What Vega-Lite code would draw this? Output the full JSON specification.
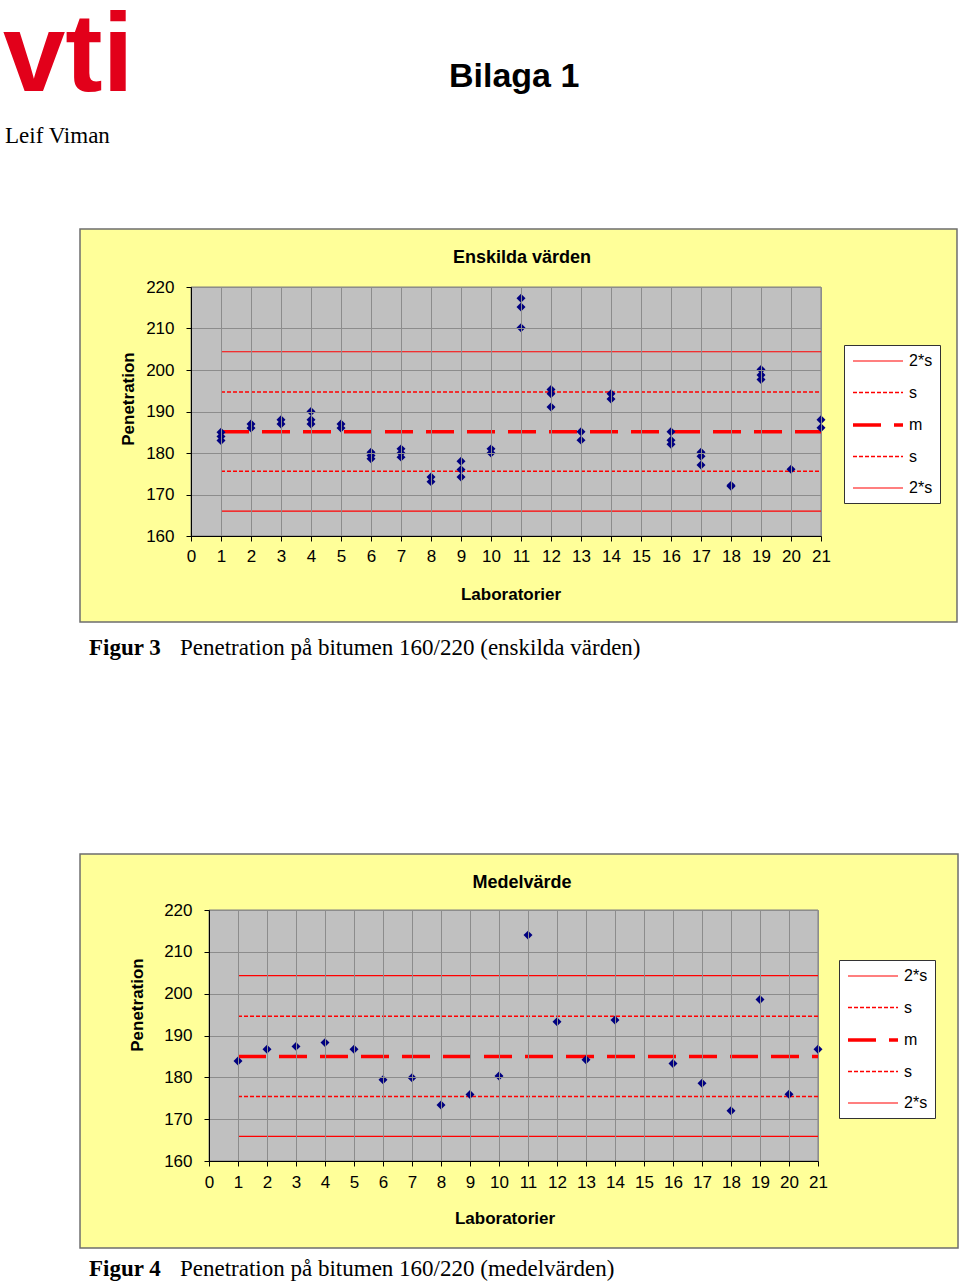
{
  "$schema": "https://vega.github.io/schema/vega-lite/v6.json",
  "padding": {"left": 2, "top": 0, "right": 0, "bottom": 0},
  "bounds": "flush",
  "spacing": 374,
  "resolve": {"scale": {"color": "independent", "strokeDash": "independent", "strokeWidth": "independent"}, "legend": {"color": "independent", "strokeDash": "independent", "strokeWidth": "independent"}},
  "datasets": {
    "enskilda": [
      {"lab": 1, "pen": 185}, {"lab": 1, "pen": 184}, {"lab": 1, "pen": 183},
      {"lab": 2, "pen": 187}, {"lab": 2, "pen": 186},
      {"lab": 3, "pen": 188}, {"lab": 3, "pen": 187},
      {"lab": 4, "pen": 190}, {"lab": 4, "pen": 188}, {"lab": 4, "pen": 187},
      {"lab": 5, "pen": 187}, {"lab": 5, "pen": 186},
      {"lab": 6, "pen": 180.2}, {"lab": 6, "pen": 179.4}, {"lab": 6, "pen": 178.6},
      {"lab": 7, "pen": 181}, {"lab": 7, "pen": 180}, {"lab": 7, "pen": 179},
      {"lab": 8, "pen": 174.2}, {"lab": 8, "pen": 173.1},
      {"lab": 9, "pen": 178}, {"lab": 9, "pen": 176}, {"lab": 9, "pen": 174.2},
      {"lab": 10, "pen": 181}, {"lab": 10, "pen": 180},
      {"lab": 11, "pen": 217.3}, {"lab": 11, "pen": 215.2}, {"lab": 11, "pen": 210.2},
      {"lab": 12, "pen": 195.3}, {"lab": 12, "pen": 194.3}, {"lab": 12, "pen": 191.1},
      {"lab": 13, "pen": 185.1}, {"lab": 13, "pen": 183.1},
      {"lab": 14, "pen": 194.3}, {"lab": 14, "pen": 193.0},
      {"lab": 16, "pen": 185.1}, {"lab": 16, "pen": 183.1}, {"lab": 16, "pen": 182.1},
      {"lab": 17, "pen": 180.2}, {"lab": 17, "pen": 179.2}, {"lab": 17, "pen": 177.1},
      {"lab": 18, "pen": 172.2}, {"lab": 18, "pen": 172.0},
      {"lab": 19, "pen": 200.1}, {"lab": 19, "pen": 198.8}, {"lab": 19, "pen": 197.7},
      {"lab": 20, "pen": 176.1},
      {"lab": 21, "pen": 188.0}, {"lab": 21, "pen": 186.1}
    ],
    "medel": [
      {"lab": 1, "pen": 183.9}, {"lab": 2, "pen": 186.7}, {"lab": 3, "pen": 187.4},
      {"lab": 4, "pen": 188.3}, {"lab": 5, "pen": 186.7}, {"lab": 6, "pen": 179.4},
      {"lab": 7, "pen": 179.9}, {"lab": 8, "pen": 173.4}, {"lab": 9, "pen": 175.9},
      {"lab": 10, "pen": 180.3}, {"lab": 11, "pen": 214.0}, {"lab": 12, "pen": 193.3},
      {"lab": 13, "pen": 184.2}, {"lab": 14, "pen": 193.7}, {"lab": 16, "pen": 183.3},
      {"lab": 17, "pen": 178.6}, {"lab": 18, "pen": 172.0}, {"lab": 19, "pen": 198.6},
      {"lab": 20, "pen": 175.95}, {"lab": 21, "pen": 186.7}
    ],
    "refs1": [
      {"series": "hi2", "value": 204.4}, {"series": "hi1", "value": 194.7},
      {"series": "mean", "value": 185.1}, {"series": "lo1", "value": 175.6},
      {"series": "lo2", "value": 166.0}
    ],
    "refs2": [
      {"series": "hi2", "value": 204.3}, {"series": "hi1", "value": 194.6},
      {"series": "mean", "value": 185.0}, {"series": "lo1", "value": 175.4},
      {"series": "lo2", "value": 165.9}
    ]
  },
  "vconcat": [
    {
      "width": 630,
      "height": 249,
      "layer": [
        {
          "data": {"values": [{}]},
          "mark": {"type": "rect", "fill": "#ffff99", "stroke": "#6e6e6e", "strokeWidth": 1.5},
          "encoding": {
            "x": {"datum": -3.7, "type": "quantitative", "axis": {"values": [0,1,2,3,4,5,6,7,8,9,10,11,12,13,14,15,16,17,18,19,20,21], "title": null, "grid": true, "zindex": 1, "labelFlush": false, "labelOverlap": false, "labelPadding": 7}},
            "x2": {"datum": 25.533},
            "y": {"datum": 233.976, "type": "quantitative", "axis": {"values": [160,170,180,190,200,210,220], "title": null, "grid": true, "zindex": 1, "labelFlush": false, "labelOverlap": false, "labelPadding": 12}},
            "y2": {"datum": 139.277}
          }
        },
        {
          "data": {"values": [{}]},
          "mark": {"type": "rect", "fill": "#c0c0c0", "stroke": "#808080", "strokeWidth": 1},
          "encoding": {
            "x": {"datum": 0, "type": "quantitative", "axis": {"values": [0,1,2,3,4,5,6,7,8,9,10,11,12,13,14,15,16,17,18,19,20,21], "title": null, "grid": true, "zindex": 1, "labelFlush": false, "labelOverlap": false, "labelPadding": 7}},
            "x2": {"datum": 21},
            "y": {"datum": 220, "type": "quantitative", "axis": {"values": [160,170,180,190,200,210,220], "title": null, "grid": true, "zindex": 1, "labelFlush": false, "labelOverlap": false, "labelPadding": 12}},
            "y2": {"datum": 160}
          }
        },
        {
          "data": {"name": "refs1"},
          "mark": {"type": "rule", "strokeCap": "butt"},
          "encoding": {
            "x": {"datum": 1, "type": "quantitative", "axis": {"values": [0,1,2,3,4,5,6,7,8,9,10,11,12,13,14,15,16,17,18,19,20,21], "title": null, "grid": true, "zindex": 1, "labelFlush": false, "labelOverlap": false, "labelPadding": 7}},
            "x2": {"datum": 21},
            "y": {"field": "value", "type": "quantitative", "axis": {"values": [160,170,180,190,200,210,220], "title": null, "grid": true, "zindex": 1, "labelFlush": false, "labelOverlap": false, "labelPadding": 12}},
            "color": {"field": "series", "type": "nominal",
              "scale": {"domain": ["hi2", "hi1", "mean", "lo1", "lo2"], "range": ["#ff0000", "#ff0000", "#ff0000", "#ff0000", "#ff0000"]},
              "legend": {"orient": "none", "legendX": 653, "legendY": 58, "direction": "vertical", "title": null,
                "labelExpr": "datum.value == 'mean' ? 'm' : (datum.value == 'hi2' || datum.value == 'lo2' ? '2*s' : 's')"}},
            "strokeDash": {"field": "series", "type": "nominal",
              "scale": {"domain": ["hi2", "hi1", "mean", "lo1", "lo2"], "range": [[1, 0], [4, 2], [28, 13], [4, 2], [1, 0]]},
              "legend": {"orient": "none", "legendX": 653, "legendY": 58, "direction": "vertical", "title": null,
                "labelExpr": "datum.value == 'mean' ? 'm' : (datum.value == 'hi2' || datum.value == 'lo2' ? '2*s' : 's')"}},
            "strokeWidth": {"field": "series", "type": "nominal",
              "scale": {"type": "ordinal", "domain": ["hi2", "hi1", "mean", "lo1", "lo2"], "range": [1.2, 1.5, 3.5, 1.5, 1.2]},
              "legend": {"orient": "none", "legendX": 653, "legendY": 58, "direction": "vertical", "title": null,
                "labelExpr": "datum.value == 'mean' ? 'm' : (datum.value == 'hi2' || datum.value == 'lo2' ? '2*s' : 's')"}}
          }
        },
        {
          "data": {"name": "enskilda"},
          "mark": {"type": "point", "shape": "diamond", "filled": true, "color": "#000080", "size": 80, "opacity": 1},
          "encoding": {
            "x": {"field": "lab", "type": "quantitative",
              "scale": {"domain": [0, 21], "nice": false, "zero": false},
              "axis": {"values": [0,1,2,3,4,5,6,7,8,9,10,11,12,13,14,15,16,17,18,19,20,21], "title": null, "grid": true, "zindex": 1, "labelFlush": false, "labelOverlap": false, "labelPadding": 7}},
            "y": {"field": "pen", "type": "quantitative",
              "scale": {"domain": [160, 220], "nice": false, "zero": false},
              "axis": {"values": [160,170,180,190,200,210,220], "title": null, "grid": true, "zindex": 1, "labelFlush": false, "labelOverlap": false, "labelPadding": 12}}
          }
        },
        {
          "data": {"values": [{}]},
          "mark": {"type": "text", "text": "vti", "font": "Liberation Sans", "fontWeight": "bold", "fontSize": 112, "color": "#e2001a", "align": "left", "baseline": "alphabetic"},
          "encoding": {"x": {"datum": -6.2667, "type": "quantitative", "axis": {"values": [0,1,2,3,4,5,6,7,8,9,10,11,12,13,14,15,16,17,18,19,20,21], "title": null, "grid": true, "zindex": 1, "labelFlush": false, "labelOverlap": false, "labelPadding": 7}}, "y": {"datum": 267.23, "type": "quantitative", "axis": {"values": [160,170,180,190,200,210,220], "title": null, "grid": true, "zindex": 1, "labelFlush": false, "labelOverlap": false, "labelPadding": 12}}}
        },
        {
          "data": {"values": [{}]},
          "mark": {"type": "text", "text": "Bilaga 1", "font": "Liberation Sans", "fontWeight": "bold", "fontSize": 34, "color": "black", "align": "left", "baseline": "alphabetic"},
          "encoding": {"x": {"datum": 8.6, "type": "quantitative", "axis": {"values": [0,1,2,3,4,5,6,7,8,9,10,11,12,13,14,15,16,17,18,19,20,21], "title": null, "grid": true, "zindex": 1, "labelFlush": false, "labelOverlap": false, "labelPadding": 7}}, "y": {"datum": 268.3, "type": "quantitative", "axis": {"values": [160,170,180,190,200,210,220], "title": null, "grid": true, "zindex": 1, "labelFlush": false, "labelOverlap": false, "labelPadding": 12}}}
        },
        {
          "data": {"values": [{}]},
          "mark": {"type": "text", "text": "Leif Viman", "font": "Liberation Serif", "fontSize": 23, "color": "black", "align": "left", "baseline": "alphabetic"},
          "encoding": {"x": {"datum": -6.2, "type": "quantitative", "axis": {"values": [0,1,2,3,4,5,6,7,8,9,10,11,12,13,14,15,16,17,18,19,20,21], "title": null, "grid": true, "zindex": 1, "labelFlush": false, "labelOverlap": false, "labelPadding": 7}}, "y": {"datum": 254.7, "type": "quantitative", "axis": {"values": [160,170,180,190,200,210,220], "title": null, "grid": true, "zindex": 1, "labelFlush": false, "labelOverlap": false, "labelPadding": 12}}}
        },
        {
          "data": {"values": [{}]},
          "mark": {"type": "text", "text": "Enskilda värden", "font": "Liberation Sans", "fontWeight": "bold", "fontSize": 18, "color": "black", "align": "center", "baseline": "middle"},
          "encoding": {"x": {"datum": 11.033, "type": "quantitative", "axis": {"values": [0,1,2,3,4,5,6,7,8,9,10,11,12,13,14,15,16,17,18,19,20,21], "title": null, "grid": true, "zindex": 1, "labelFlush": false, "labelOverlap": false, "labelPadding": 7}}, "y": {"datum": 226.99, "type": "quantitative", "axis": {"values": [160,170,180,190,200,210,220], "title": null, "grid": true, "zindex": 1, "labelFlush": false, "labelOverlap": false, "labelPadding": 12}}}
        },
        {
          "data": {"values": [{}]},
          "mark": {"type": "text", "text": "Penetration", "font": "Liberation Sans", "fontWeight": "bold", "fontSize": 17, "color": "black", "align": "center", "baseline": "middle", "angle": 270},
          "encoding": {"x": {"datum": -2.0667, "type": "quantitative", "axis": {"values": [0,1,2,3,4,5,6,7,8,9,10,11,12,13,14,15,16,17,18,19,20,21], "title": null, "grid": true, "zindex": 1, "labelFlush": false, "labelOverlap": false, "labelPadding": 7}}, "y": {"datum": 193.01, "type": "quantitative", "axis": {"values": [160,170,180,190,200,210,220], "title": null, "grid": true, "zindex": 1, "labelFlush": false, "labelOverlap": false, "labelPadding": 12}}}
        },
        {
          "data": {"values": [{}]},
          "mark": {"type": "text", "text": "Laboratorier", "font": "Liberation Sans", "fontWeight": "bold", "fontSize": 17, "color": "black", "align": "center", "baseline": "middle"},
          "encoding": {"x": {"datum": 10.667, "type": "quantitative", "axis": {"values": [0,1,2,3,4,5,6,7,8,9,10,11,12,13,14,15,16,17,18,19,20,21], "title": null, "grid": true, "zindex": 1, "labelFlush": false, "labelOverlap": false, "labelPadding": 7}}, "y": {"datum": 145.78, "type": "quantitative", "axis": {"values": [160,170,180,190,200,210,220], "title": null, "grid": true, "zindex": 1, "labelFlush": false, "labelOverlap": false, "labelPadding": 12}}}
        },
        {
          "data": {"values": [{}]},
          "mark": {"type": "text", "text": "Figur 3", "font": "Liberation Serif", "fontWeight": "bold", "fontSize": 23, "color": "black", "align": "left", "baseline": "alphabetic"},
          "encoding": {"x": {"datum": -3.4, "type": "quantitative", "axis": {"values": [0,1,2,3,4,5,6,7,8,9,10,11,12,13,14,15,16,17,18,19,20,21], "title": null, "grid": true, "zindex": 1, "labelFlush": false, "labelOverlap": false, "labelPadding": 7}}, "y": {"datum": 131.35, "type": "quantitative", "axis": {"values": [160,170,180,190,200,210,220], "title": null, "grid": true, "zindex": 1, "labelFlush": false, "labelOverlap": false, "labelPadding": 12}}}
        },
        {
          "data": {"values": [{}]},
          "mark": {"type": "text", "text": "Penetration på bitumen 160/220 (enskilda värden)", "font": "Liberation Serif", "fontSize": 23, "color": "black", "align": "left", "baseline": "alphabetic"},
          "encoding": {"x": {"datum": -0.3667, "type": "quantitative", "axis": {"values": [0,1,2,3,4,5,6,7,8,9,10,11,12,13,14,15,16,17,18,19,20,21], "title": null, "grid": true, "zindex": 1, "labelFlush": false, "labelOverlap": false, "labelPadding": 7}}, "y": {"datum": 131.35, "type": "quantitative", "axis": {"values": [160,170,180,190,200,210,220], "title": null, "grid": true, "zindex": 1, "labelFlush": false, "labelOverlap": false, "labelPadding": 12}}}
        }
      ]
    },
    {
      "bounds": "flush",
      "spacing": 17,
      "resolve": {"scale": {"color": "independent", "strokeDash": "independent", "strokeWidth": "independent"}, "legend": {"color": "independent", "strokeDash": "independent", "strokeWidth": "independent"}},
      "hconcat": [
        {"width": 1, "height": 1, "data": {"values": []}, "mark": "point"},
        {
          "width": 609,
          "height": 251,
          "layer": [
            {
              "data": {"values": [{}]},
              "mark": {"type": "rect", "fill": "#ffff99", "stroke": "#6e6e6e", "strokeWidth": 1.5},
              "encoding": {
                "x": {"datum": -4.448, "type": "quantitative", "axis": {"values": [0,1,2,3,4,5,6,7,8,9,10,11,12,13,14,15,16,17,18,19,20,21], "title": null, "grid": true, "zindex": 1, "labelFlush": false, "labelOverlap": false, "labelPadding": 8}},
                "x2": {"datum": 25.828},
                "y": {"datum": 233.39, "type": "quantitative", "axis": {"values": [160,170,180,190,200,210,220], "title": null, "grid": true, "zindex": 1, "labelFlush": false, "labelOverlap": false, "labelPadding": 12}},
                "y2": {"datum": 139.2}
              }
            },
            {
              "data": {"values": [{}]},
              "mark": {"type": "rect", "fill": "#c0c0c0", "stroke": "#808080", "strokeWidth": 1},
              "encoding": {
                "x": {"datum": 0, "type": "quantitative", "axis": {"values": [0,1,2,3,4,5,6,7,8,9,10,11,12,13,14,15,16,17,18,19,20,21], "title": null, "grid": true, "zindex": 1, "labelFlush": false, "labelOverlap": false, "labelPadding": 8}},
                "x2": {"datum": 21},
                "y": {"datum": 220, "type": "quantitative", "axis": {"values": [160,170,180,190,200,210,220], "title": null, "grid": true, "zindex": 1, "labelFlush": false, "labelOverlap": false, "labelPadding": 12}},
                "y2": {"datum": 160}
              }
            },
            {
              "data": {"name": "refs2"},
              "mark": {"type": "rule", "strokeCap": "butt"},
              "encoding": {
                "x": {"datum": 1, "type": "quantitative", "axis": {"values": [0,1,2,3,4,5,6,7,8,9,10,11,12,13,14,15,16,17,18,19,20,21], "title": null, "grid": true, "zindex": 1, "labelFlush": false, "labelOverlap": false, "labelPadding": 8}},
                "x2": {"datum": 21},
                "y": {"field": "value", "type": "quantitative", "axis": {"values": [160,170,180,190,200,210,220], "title": null, "grid": true, "zindex": 1, "labelFlush": false, "labelOverlap": false, "labelPadding": 12}},
                "color": {"field": "series", "type": "nominal",
                  "scale": {"domain": ["hi2", "hi1", "mean", "lo1", "lo2"], "range": ["#ff0000", "#ff0000", "#ff0000", "#ff0000", "#ff0000"]},
                  "legend": {"orient": "none", "legendX": 630, "legendY": 50, "direction": "vertical", "title": null,
                    "labelExpr": "datum.value == 'mean' ? 'm' : (datum.value == 'hi2' || datum.value == 'lo2' ? '2*s' : 's')"}},
                "strokeDash": {"field": "series", "type": "nominal",
                  "scale": {"domain": ["hi2", "hi1", "mean", "lo1", "lo2"], "range": [[1, 0], [4, 2], [28, 13], [4, 2], [1, 0]]},
                  "legend": {"orient": "none", "legendX": 630, "legendY": 50, "direction": "vertical", "title": null,
                    "labelExpr": "datum.value == 'mean' ? 'm' : (datum.value == 'hi2' || datum.value == 'lo2' ? '2*s' : 's')"}},
                "strokeWidth": {"field": "series", "type": "nominal",
                  "scale": {"type": "ordinal", "domain": ["hi2", "hi1", "mean", "lo1", "lo2"], "range": [1.2, 1.5, 3.5, 1.5, 1.2]},
                  "legend": {"orient": "none", "legendX": 630, "legendY": 50, "direction": "vertical", "title": null,
                    "labelExpr": "datum.value == 'mean' ? 'm' : (datum.value == 'hi2' || datum.value == 'lo2' ? '2*s' : 's')"}}
              }
            },
            {
              "data": {"name": "medel"},
              "mark": {"type": "point", "shape": "diamond", "filled": true, "color": "#000080", "size": 80, "opacity": 1},
              "encoding": {
                "x": {"field": "lab", "type": "quantitative",
                  "scale": {"domain": [0, 21], "nice": false, "zero": false},
                  "axis": {"values": [0,1,2,3,4,5,6,7,8,9,10,11,12,13,14,15,16,17,18,19,20,21], "title": null, "grid": true, "zindex": 1, "labelFlush": false, "labelOverlap": false, "labelPadding": 8}},
                "y": {"field": "pen", "type": "quantitative",
                  "scale": {"domain": [160, 220], "nice": false, "zero": false},
                  "axis": {"values": [160,170,180,190,200,210,220], "title": null, "grid": true, "zindex": 1, "labelFlush": false, "labelOverlap": false, "labelPadding": 12}}
              }
            },
            {
              "data": {"values": [{}]},
              "mark": {"type": "text", "text": "Medelvärde", "font": "Liberation Sans", "fontWeight": "bold", "fontSize": 18, "color": "black", "align": "center", "baseline": "middle"},
              "encoding": {"x": {"datum": 10.793, "type": "quantitative", "axis": {"values": [0,1,2,3,4,5,6,7,8,9,10,11,12,13,14,15,16,17,18,19,20,21], "title": null, "grid": true, "zindex": 1, "labelFlush": false, "labelOverlap": false, "labelPadding": 8}}, "y": {"datum": 226.45, "type": "quantitative", "axis": {"values": [160,170,180,190,200,210,220], "title": null, "grid": true, "zindex": 1, "labelFlush": false, "labelOverlap": false, "labelPadding": 12}}}
            },
            {
              "data": {"values": [{}]},
              "mark": {"type": "text", "text": "Penetration", "font": "Liberation Sans", "fontWeight": "bold", "fontSize": 17, "color": "black", "align": "center", "baseline": "middle", "angle": 270},
              "encoding": {"x": {"datum": -2.448, "type": "quantitative", "axis": {"values": [0,1,2,3,4,5,6,7,8,9,10,11,12,13,14,15,16,17,18,19,20,21], "title": null, "grid": true, "zindex": 1, "labelFlush": false, "labelOverlap": false, "labelPadding": 8}}, "y": {"datum": 197.29, "type": "quantitative", "axis": {"values": [160,170,180,190,200,210,220], "title": null, "grid": true, "zindex": 1, "labelFlush": false, "labelOverlap": false, "labelPadding": 12}}}
            },
            {
              "data": {"values": [{}]},
              "mark": {"type": "text", "text": "Laboratorier", "font": "Liberation Sans", "fontWeight": "bold", "fontSize": 17, "color": "black", "align": "center", "baseline": "middle"},
              "encoding": {"x": {"datum": 10.207, "type": "quantitative", "axis": {"values": [0,1,2,3,4,5,6,7,8,9,10,11,12,13,14,15,16,17,18,19,20,21], "title": null, "grid": true, "zindex": 1, "labelFlush": false, "labelOverlap": false, "labelPadding": 8}}, "y": {"datum": 146.14, "type": "quantitative", "axis": {"values": [160,170,180,190,200,210,220], "title": null, "grid": true, "zindex": 1, "labelFlush": false, "labelOverlap": false, "labelPadding": 12}}}
            },
            {
              "data": {"values": [{}]},
              "mark": {"type": "text", "text": "Figur 4", "font": "Liberation Serif", "fontWeight": "bold", "fontSize": 23, "color": "black", "align": "left", "baseline": "alphabetic"},
              "encoding": {"x": {"datum": -4.138, "type": "quantitative", "axis": {"values": [0,1,2,3,4,5,6,7,8,9,10,11,12,13,14,15,16,17,18,19,20,21], "title": null, "grid": true, "zindex": 1, "labelFlush": false, "labelOverlap": false, "labelPadding": 8}}, "y": {"datum": 132.5, "type": "quantitative", "axis": {"values": [160,170,180,190,200,210,220], "title": null, "grid": true, "zindex": 1, "labelFlush": false, "labelOverlap": false, "labelPadding": 12}}}
            },
            {
              "data": {"values": [{}]},
              "mark": {"type": "text", "text": "Penetration på bitumen 160/220 (medelvärden)", "font": "Liberation Serif", "fontSize": 23, "color": "black", "align": "left", "baseline": "alphabetic"},
              "encoding": {"x": {"datum": -1.0, "type": "quantitative", "axis": {"values": [0,1,2,3,4,5,6,7,8,9,10,11,12,13,14,15,16,17,18,19,20,21], "title": null, "grid": true, "zindex": 1, "labelFlush": false, "labelOverlap": false, "labelPadding": 8}}, "y": {"datum": 132.5, "type": "quantitative", "axis": {"values": [160,170,180,190,200,210,220], "title": null, "grid": true, "zindex": 1, "labelFlush": false, "labelOverlap": false, "labelPadding": 12}}}
            }
          ]
        }
      ]
    }
  ],
  "config": {
    "view": {"stroke": null},
    "axis": {
      "labelFont": "Liberation Sans", "labelFontSize": 17, "labelColor": "black",
      "domainColor": "black", "domainWidth": 1, "tickColor": "black", "tickSize": 5, "tickWidth": 1,
      "gridColor": "#8c8c8c", "gridWidth": 1, "gridOpacity": 1
    },
    "legend": {
      "symbolType": "M-1,0H5.25", "symbolSize": 256,
      "labelFont": "Liberation Sans", "labelFontSize": 16, "labelColor": "black",
      "fillColor": "white", "strokeColor": "#333333", "padding": 7,
      "rowPadding": 14.5, "labelOffset": 38
    }
  }
}
